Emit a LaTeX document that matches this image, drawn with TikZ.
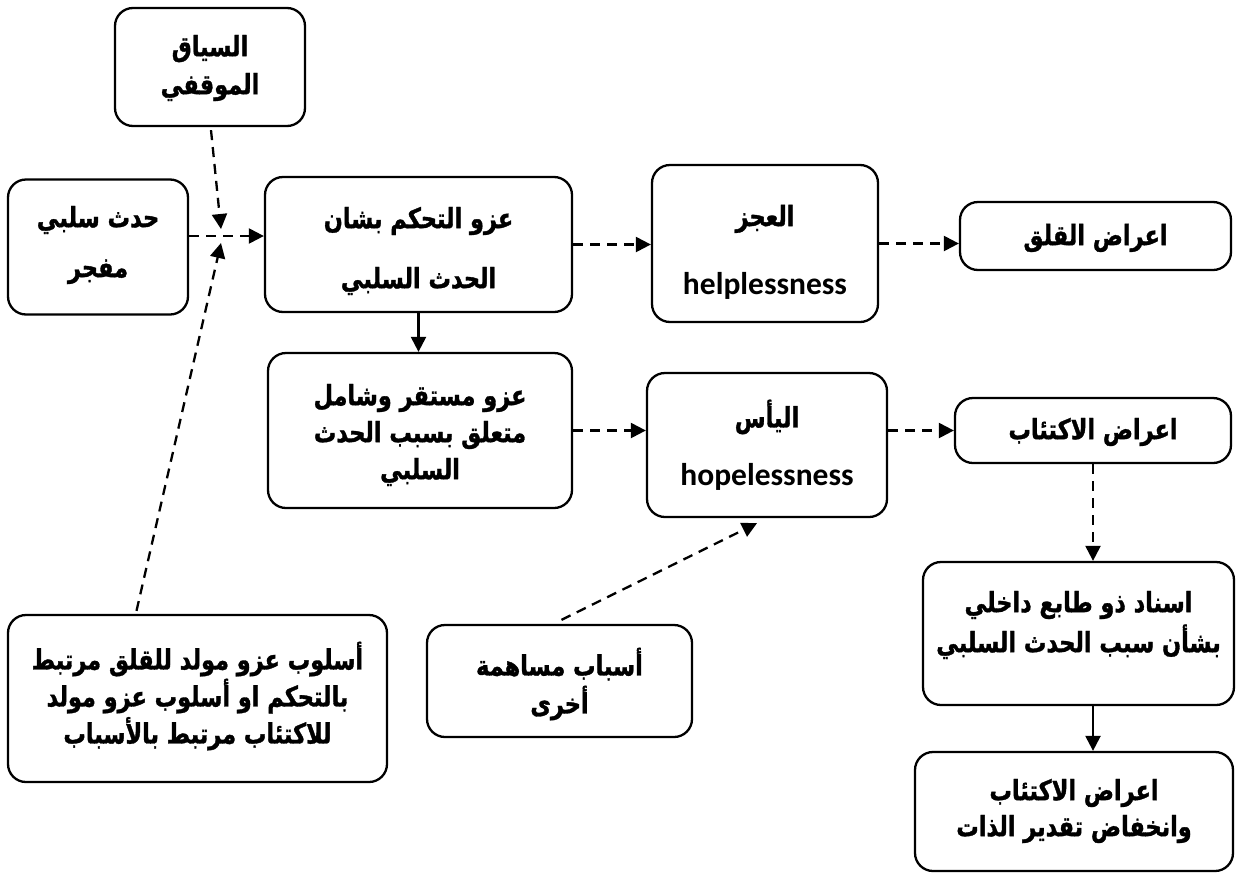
\documentclass[tikz,border=0pt]{standalone}
\usepackage{fontspec}
\usetikzlibrary{arrows.meta,calc}
\TeXXeTstate=1
\newfontfamily\arabicfont[Script=Arabic,FakeStretch=0.8,BoldFeatures={FakeBold=1.2}]{DejaVu Sans}
\newfontfamily\latinfont{Carlito}
\newcommand\ar[1]{\beginR #1\endR}
\newcommand\en[1]{{\latinfont\bfseries\fontsize{31.5}{36}\selectfont #1}}

\tikzset{
  box/.style={draw, line width=2.3pt, rounded corners=18pt, inner sep=0pt},
  txt/.style={align=center, inner sep=0pt,
    font=\arabicfont\bfseries\fontsize{28}{38}\selectfont},
  dsh/.style={line width=2.3pt, dash pattern=on 10pt off 7pt,
    -{Triangle[length=15pt,width=15pt]}},
  sol/.style={line width=2.3pt, -{Triangle[length=15pt,width=15pt]}}
}

\begin{document}
\begin{tikzpicture}[x=1pt,y=-1pt]
\useasboundingbox (0,0) rectangle (1236,873);

% frames
\node[box, minimum width=190pt, minimum height=118pt] (ctx)   at (210,67) {};
\node[box, minimum width=180pt, minimum height=135pt] (ev)    at (98,247) {};
\node[box, minimum width=307pt, minimum height=135pt] (attr)  at (418.5,244.5) {};
\node[box, minimum width=226pt, minimum height=157pt] (help)  at (765,243.5) {};
\node[box, minimum width=271pt, minimum height=68pt]  (anx)   at (1095.5,236) {};
\node[box, minimum width=304pt, minimum height=155pt] (stab)  at (420,430.5) {};
\node[box, minimum width=240pt, minimum height=144pt] (hope)  at (767,445) {};
\node[box, minimum width=276pt, minimum height=65pt]  (dep)   at (1093,430.5) {};
\node[box, minimum width=311pt, minimum height=143pt] (intl)  at (1078.5,633.5) {};
\node[box, minimum width=318pt, minimum height=119pt] (low)   at (1074,811.5) {};
\node[box, minimum width=379pt, minimum height=167pt] (sty)   at (197.5,698.5) {};
\node[box, minimum width=265pt, minimum height=112pt] (other) at (559.5,681) {};

% labels
\node[txt] (ctxT) at (210,68) {\ar{السياق}\\[0pt]\ar{الموقفي}};
\node[txt] (evT) at (98,245) {\ar{حدث سلبي}\\[12pt]\ar{مفجر}};
\node[txt] (attrT) at (418.5,251) {\ar{عزو التحكم بشان}\\[22pt]\ar{الحدث السلبي}};
\node[txt] (helpT) at (765,252) {\ar{العجز}\\[30pt]\en{helplessness}};
\node[txt] (anxT) at (1095.5,238) {\ar{اعراض القلق}};
\node[txt] (stabT) at (420,435) {\ar{عزو مستقر وشامل}\\[-1pt]\ar{متعلق بسبب الحدث}\\[-1pt]\ar{السلبي}};
\node[txt] (hopeT) at (767,445) {\ar{اليأس}\\[20pt]\en{hopelessness}};
\node[txt] (depT) at (1093,432) {\ar{اعراض الاكتئاب}};
\node[txt] (intlT) at (1078.5,625) {\ar{اسناد ذو طابع داخلي}\\[2pt]\ar{بشأن سبب الحدث السلبي}};
\node[txt] (lowT) at (1074,811) {\ar{اعراض الاكتئاب}\\[-2pt]\ar{وانخفاض تقدير الذات}};
\node[txt] (styT) at (197.5,696) {\ar{أسلوب عزو مولد للقلق مرتبط}\\[-1pt]\ar{بالتحكم او أسلوب عزو مولد}\\[-1pt]\ar{للاكتئاب مرتبط بالأسباب}};
\node[txt] (otherT) at (559.5,684) {\ar{أسباب مساهمة}\\[0pt]\ar{أخرى}};

% meeting point of the three inputs
\coordinate (jt) at (221,229);
\coordinate (jb) at (221,243);

% connectors
\draw[dsh] (ev.east |- 0,236) -- (attr.west |- 0,236);
\draw[dsh] ($(ctx.south)+(1,3)$) -- (jt);
\draw[dsh] ($(sty.north west)!0.34!(sty.north east)+(0,-3)$) -- (jb);
\draw[sol] (attr.south) -- (attr.south |- stab.north);
\draw[dsh] (attr.east) -- (attr.east -| help.west);
\draw[dsh] (help.east) -- (help.east -| anx.west);
\draw[dsh] (stab.east) -- (stab.east -| hope.west);
\draw[dsh] (hope.east |- dep.west) -- (dep.west);
\draw[dsh] (dep.south) -- (dep.south |- intl.north);
\draw[sol] (dep.south |- intl.south) -- (dep.south |- low.north);
\draw[dsh] ($(other.north)+(2,-4)$) -- ($(hope.south)+(-10,5)$);
\end{tikzpicture}
\end{document}
